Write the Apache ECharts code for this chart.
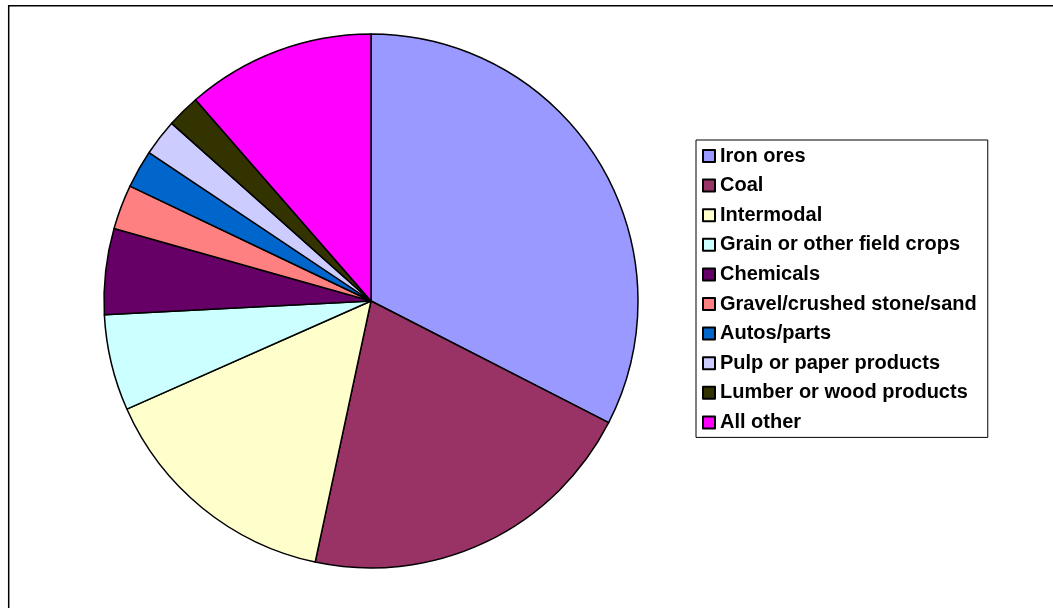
<!DOCTYPE html>
<html>
<head>
<meta charset="utf-8">
<script src="https://cdn.jsdelivr.net/npm/echarts@6/dist/echarts.min.js"></script>
<style>
html,body{margin:0;padding:0;background:#fff;}
#chart{width:1053px;height:608px;}
</style>
</head>
<body>
<div id="chart"></div>
<script>
const categories = ['Iron ores','Coal','Intermodal','Grain or other field crops','Chemicals','Gravel/crushed stone/sand','Autos/parts','Pulp or paper products','Lumber or wood products','All other'];
const shares = [32.5, 20.8, 15.0, 5.8, 5.2, 2.7, 2.3, 2.2, 2.0, 11.4];
const colors = ['#9999FF','#993366','#FFFFCC','#CCFFFF','#660066','#FF8080','#0066CC','#CCCCFF','#333300','#FF00FF'];

const chart = echarts.init(document.getElementById('chart'), null, {renderer:'canvas'});
chart.setOption({
  animation: false,
  backgroundColor: '#fff',
  color: colors,
  graphic: [{
    type: 'rect',
    shape: {x: 8.7, y: 5.7, width: 1200, height: 800},
    style: {fill: 'none', stroke: '#000', lineWidth: 1.5},
    silent: true
  }],
  legend: {
    orient: 'vertical',
    left: 696,
    top: 140,
    padding: [6, 11, 5, 6],
    itemWidth: 12,
    itemHeight: 12,
    itemGap: 9.6,
    borderColor: '#000',
    borderWidth: 1,
    icon: 'rect',
    selectedMode: false,
    textStyle: {fontFamily: 'Arial, "Liberation Sans", sans-serif', fontWeight: 'bold', fontSize: 20, lineHeight: 20, color: '#000'},
    data: categories
  },
  series: [{
    type: 'pie',
    center: [371, 301],
    radius: 267,
    startAngle: 90,
    clockwise: true,
    label: {show: false},
    labelLine: {show: false},
    emphasis: {disabled: true},
    itemStyle: {borderColor: '#000', borderWidth: 1.5},
    data: categories.map((c, i) => ({name: c, value: shares[i]}))
  }]
});
</script>
</body>
</html>
